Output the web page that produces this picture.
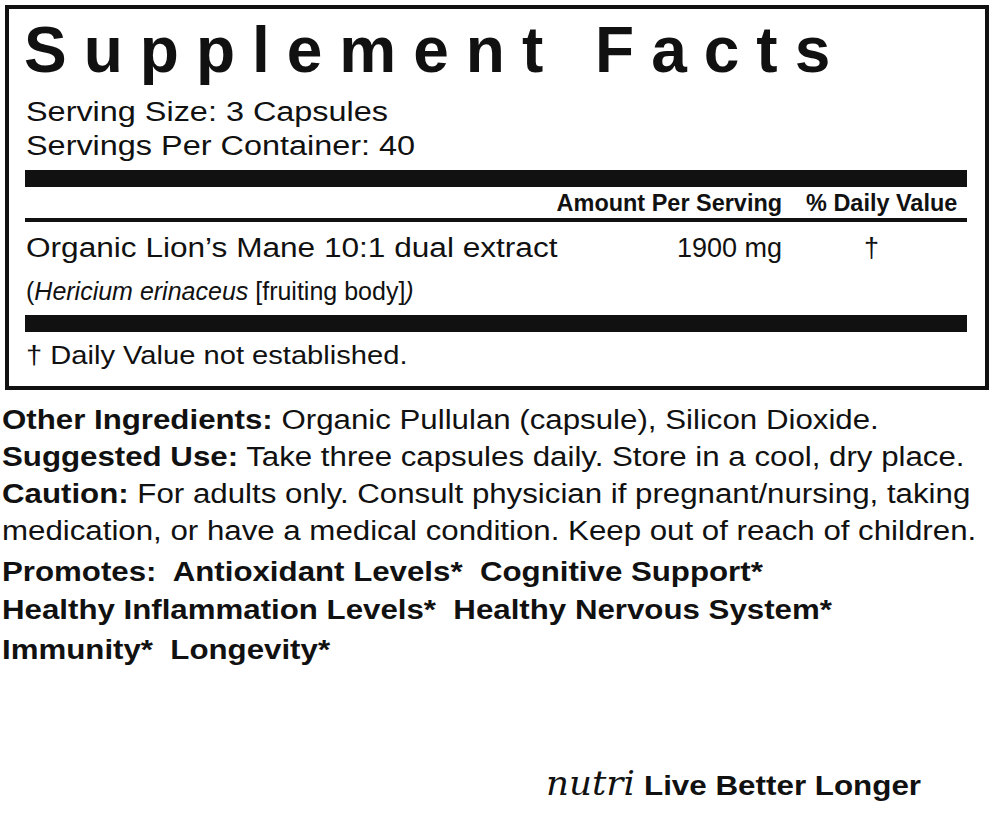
<!DOCTYPE html>
<html><head><meta charset="utf-8">
<script src="https://cdn.jsdelivr.net/npm/chart.js@4"></script>
<style>
body{margin:0;width:997px;height:821px;background:#fff;font-family:"Liberation Sans",Arial,sans-serif;color:#111;position:relative;overflow:hidden}
.a{position:absolute;white-space:pre;line-height:1}
.box{position:absolute;left:5px;top:5px;width:976px;height:377px;border:4px solid #111}
.bar{position:absolute;left:25px;width:942px;background:#111}
.b{font-weight:bold}
</style></head><body>
<div class="box"></div>
<div class="a b" id="title" style="left:24px;top:18px;font-size:64px;letter-spacing:17px">Supplement Facts</div>
<div class="a" style="left:26px;top:99px;font-size:27px;transform:scaleX(1.2);transform-origin:left top" id="s1"></div>
<div class="a" style="left:26px;top:133px;font-size:27px;transform:scaleX(1.2);transform-origin:left top" id="s2"></div>
<div class="bar" style="top:170px;height:17px"></div>
<div class="a b" style="right:215px;top:192px;font-size:23px;transform:scaleX(1.02);transform-origin:right top" id="h1"></div>
<div class="a b" style="right:40px;top:192px;font-size:23px;transform:scaleX(1.02);transform-origin:right top" id="h2"></div>
<div class="bar" style="top:218px;height:4px"></div>
<div class="a" style="left:26px;top:235px;font-size:27px;transform:scaleX(1.17);transform-origin:left top" id="ing"></div>
<div class="a" style="right:215px;top:235px;font-size:27px" id="amt"></div>
<div class="a" style="left:864px;top:235px;font-size:27px" id="dv"></div>
<div class="a" style="left:26px;top:279px;font-size:25px;transform:scaleX(1.0);transform-origin:left top">(<i>Hericium erinaceus</i> [fruiting body]<i>)</i></div>
<div class="bar" style="top:315px;height:17px"></div>
<div class="a" style="left:26px;top:342px;font-size:26px;transform:scaleX(1.12);transform-origin:left top" id="fn"></div>
<div id="lower"></div>
<div class="a" style="left:546px;top:766px;font-size:34px;font-family:'DejaVu Serif',serif;font-style:italic;transform:scaleX(1.05);transform-origin:left top">nutri</div>
<div class="a b" style="left:644px;top:772px;font-size:28px;transform:scaleX(1.12);transform-origin:left top">Live Better Longer</div>
<script>
const servingLines=["Serving Size: 3 Capsules","Servings Per Container: 40"];
const headers=["Amount Per Serving","% Daily Value"];
const ingredient="Organic Lion’s Mane 10:1 dual extract";
const amount="1900 mg";
const dailyValue="†";
const footnote="† Daily Value not established.";
const lowerBold=["Other Ingredients:","Suggested Use:","Caution:","","Promotes:  Antioxidant Levels*  Cognitive Support*","Healthy Inflammation Levels*  Healthy Nervous System*","Immunity*  Longevity*"];
const lowerText=[" Organic Pullulan (capsule), Silicon Dioxide."," Take three capsules daily. Store in a cool, dry place."," For adults only. Consult physician if pregnant/nursing, taking","medication, or have a medical condition. Keep out of reach of children.","","",""];
const lowerTop=[407,444,481,518,559,597,637];
s1.textContent=servingLines[0];s2.textContent=servingLines[1];
h1.textContent=headers[0];h2.textContent=headers[1];
ing.textContent=ingredient;amt.textContent=amount;dv.textContent=dailyValue;fn.textContent=footnote;
const L=document.getElementById('lower');
lowerBold.forEach((b,i)=>{
 const d=document.createElement('div');d.className='a';
 d.style.cssText=`left:2px;top:${lowerTop[i]}px;font-size:27px;transform:scaleX(1.157);transform-origin:left top`;
 const s=document.createElement('span');s.className='b';s.textContent=b;
 d.appendChild(s);d.appendChild(document.createTextNode(lowerText[i]));L.appendChild(d);
});
</script>
</body></html>
